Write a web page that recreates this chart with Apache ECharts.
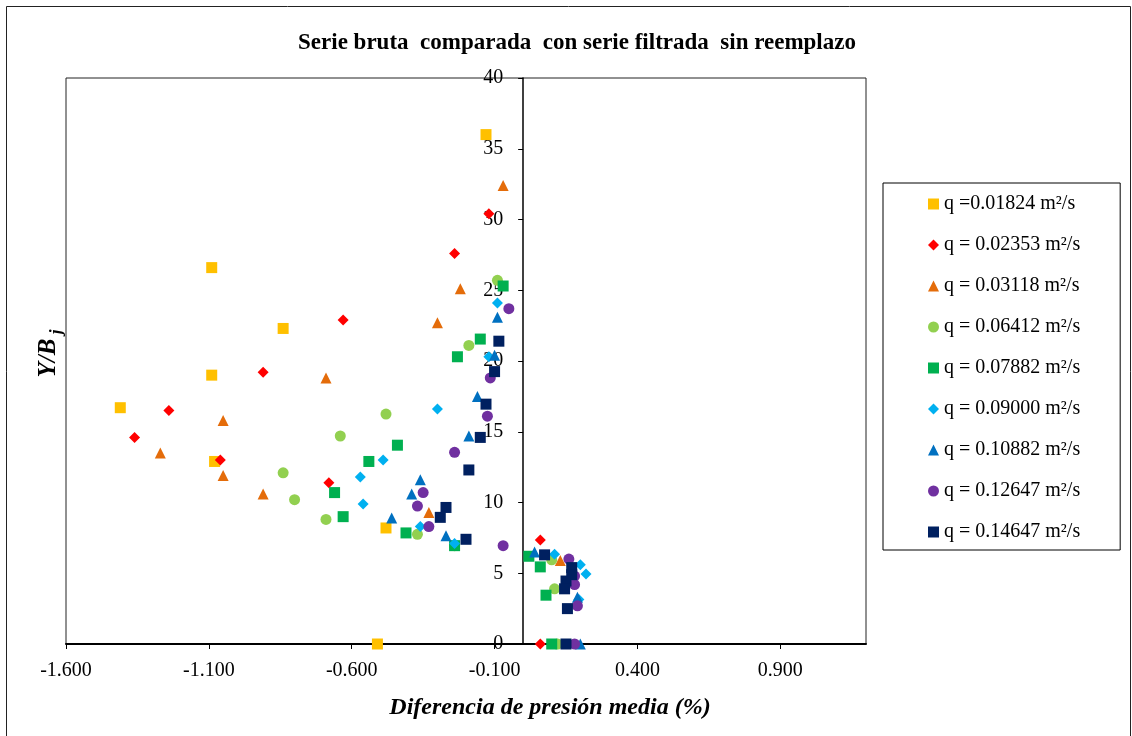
<!DOCTYPE html>
<html>
<head>
<meta charset="utf-8">
<script src="https://cdn.jsdelivr.net/npm/echarts@6/dist/echarts.min.js"></script>
<style>
  html, body { margin: 0; padding: 0; background: #fff; }
  #chart { width: 1132px; height: 736px; }
</style>
</head>
<body>
<div id="chart"></div>
<script>
// nombres de las series (caudal unitario)
const seriesNames = [
  'q =0.01824 m²/s', 'q = 0.02353 m²/s', 'q = 0.03118 m²/s',
  'q = 0.06412 m²/s', 'q = 0.07882 m²/s', 'q = 0.09000 m²/s',
  'q = 0.10882 m²/s', 'q = 0.12647 m²/s', 'q = 0.14647 m²/s'
];

// [diferencia de presión media (%), Y/Bj]
const q01824 = [[-0.13, 36.0], [-1.09, 26.6], [-0.84, 22.3], [-1.09, 19.0], [-1.41, 16.7],
  [-1.08, 12.9], [-0.48, 8.2], [-0.51, 0.0]];
const q02353 = [[-0.12, 30.4], [-0.24, 27.6], [-0.63, 22.9], [-0.91, 19.2], [-1.24, 16.5],
  [-1.36, 14.6], [-1.06, 13.0], [-0.68, 11.4], [0.06, 7.35], [0.06, 0.0]];
const q03118 = [[-0.07, 32.4], [-0.22, 25.1], [-0.30, 22.7], [-0.69, 18.8], [-1.05, 15.8],
  [-1.27, 13.5], [-1.05, 11.9], [-0.91, 10.6], [-0.33, 9.3], [0.13, 5.9]];
const q06412 = [[-0.09, 25.7], [-0.19, 21.1], [-0.48, 16.25], [-0.64, 14.7], [-0.84, 12.1],
  [-0.80, 10.2], [-0.69, 8.8], [-0.37, 7.75], [-0.24, 6.95], [0.10, 5.95], [0.11, 3.9], [0.12, 0.0]];
const q07882 = [[-0.07, 25.3], [-0.15, 21.55], [-0.23, 20.3], [-0.44, 14.05], [-0.54, 12.9],
  [-0.66, 10.7], [-0.63, 9.0], [-0.41, 7.85], [-0.24, 6.95], [0.02, 6.2], [0.06, 5.45],
  [0.08, 3.45], [0.10, 0.0]];
const q09000 = [[-0.09, 24.1], [-0.12, 20.3], [-0.30, 16.6], [-0.49, 13.0], [-0.57, 11.8],
  [-0.56, 9.9], [-0.36, 8.3], [-0.24, 7.1], [0.11, 6.35], [0.20, 5.6], [0.22, 4.95], [0.195, 3.15]];
const q10882 = [[-0.09, 23.1], [-0.10, 20.4], [-0.16, 17.5], [-0.19, 14.7], [-0.36, 11.6],
  [-0.39, 10.6], [-0.46, 8.9], [-0.27, 7.65], [0.04, 6.5], [0.19, 3.3], [0.20, 0.0]];
const q12647 = [[-0.05, 23.7], [-0.115, 18.8], [-0.125, 16.1], [-0.24, 13.55], [-0.35, 10.7],
  [-0.37, 9.75], [-0.33, 8.3], [-0.07, 6.95], [0.16, 6.0], [0.18, 4.8], [0.18, 4.2],
  [0.19, 2.7], [0.18, 0.0]];
const q14647 = [[-0.085, 21.4], [-0.10, 19.25], [-0.13, 16.95], [-0.15, 14.6], [-0.19, 12.3],
  [-0.27, 9.65], [-0.29, 8.95], [-0.20, 7.4], [0.075, 6.3], [0.17, 5.4], [0.17, 4.9],
  [0.15, 4.45], [0.145, 3.9], [0.155, 2.5], [0.15, 0.0]];

const xTicks = [-1.6, -1.1, -0.6, -0.1, 0.4, 0.9];

const seriesData = [q01824, q02353, q03118, q06412, q07882, q09000, q10882, q12647, q14647];
const colors = ['#FFC000', '#FF0000', '#E46C0A', '#92D050', '#00B050', '#00B0F0', '#0070C0', '#7030A0', '#002060'];
const symbols = ['rect', 'diamond', 'triangle', 'circle', 'rect', 'diamond', 'triangle', 'circle', 'rect'];

const font = '"Liberation Serif", "Times New Roman", serif';

const gridLeft = 66, gridRight = 266, xMin = -1.6, xMax = 1.2;
// el eje Y cruza en x = 0: se desplaza con offset para llevar también las etiquetas
const yAxisOffset = -(1132 - gridLeft - gridRight) * (0 - xMin) / (xMax - xMin);

const chart = echarts.init(document.getElementById('chart'));

const option = {
  backgroundColor: '#fff',
  animation: false,
  title: {
    text: 'Serie bruta  comparada  con serie filtrada  sin reemplazo',
    left: 572,
    top: 27,
    textAlign: 'center',
    textStyle: { fontFamily: font, fontSize: 23, fontWeight: 'bold', color: '#000' }
  },
  grid: {
    left: gridLeft, right: gridRight, top: 78, bottom: 92,
    show: true, borderColor: '#222', borderWidth: 1
  },
  legend: {
    orient: 'vertical',
    left: 883,
    top: 183,
    padding: [11, 40, 8, 45],
    itemGap: 21,
    itemWidth: 11,
    itemHeight: 11,
    selectedMode: false,
    borderColor: '#000',
    borderWidth: 1,
    textStyle: { fontFamily: font, fontSize: 20, lineHeight: 20, color: '#000' },
    data: seriesNames
  },
  xAxis: {
    type: 'value',
    min: xMin,
    max: xMax,
    interval: 0.5,
    splitLine: { show: false },
    axisLine: { lineStyle: { color: '#000', width: 2 } },
    axisTick: { customValues: xTicks, length: 5, lineStyle: { color: '#000' } },
    axisLabel: {
      customValues: xTicks,
      margin: 17,
      fontFamily: font, fontSize: 20, color: '#000',
      formatter: v => v.toFixed(3)
    }
  },
  yAxis: {
    type: 'value',
    min: 0,
    max: 40,
    interval: 5,
    offset: yAxisOffset,
    splitLine: { show: false },
    axisLine: { onZero: false, lineStyle: { color: '#000', width: 1.5 } },
    axisTick: { length: 5, lineStyle: { color: '#000' } },
    axisLabel: { margin: 20, fontFamily: font, fontSize: 20, color: '#000' }
  },
  graphic: [
    {
      type: 'rect', silent: true, z: -1,
      shape: { x: 6.5, y: 6.5, width: 1124, height: 760 },
      style: { fill: null, stroke: '#222', lineWidth: 1 }
    },
    {
      type: 'text', x: 550, y: 708,
      style: {
        text: 'Diferencia de presión media (%)',
        font: 'italic bold 24px ' + font,
        fill: '#000', align: 'center', verticalAlign: 'middle'
      }
    },
    {
      type: 'text', x: 49, y: 358, rotation: Math.PI / 2,
      style: {
        text: 'Y/B',
        font: 'italic bold 25px ' + font,
        fill: '#000', align: 'center', verticalAlign: 'middle'
      }
    },
    {
      type: 'text', x: 57, y: 332, rotation: Math.PI / 2,
      style: {
        text: 'j',
        font: 'italic bold 17px ' + font,
        fill: '#000', align: 'center', verticalAlign: 'middle'
      }
    }
  ],
  series: seriesData.map((d, i) => ({
    name: seriesNames[i],
    type: 'scatter',
    symbol: symbols[i],
    symbolSize: 11,
    itemStyle: { color: colors[i], opacity: 1 },
    data: d
  }))
};

chart.setOption(option);
</script>
</body>
</html>
